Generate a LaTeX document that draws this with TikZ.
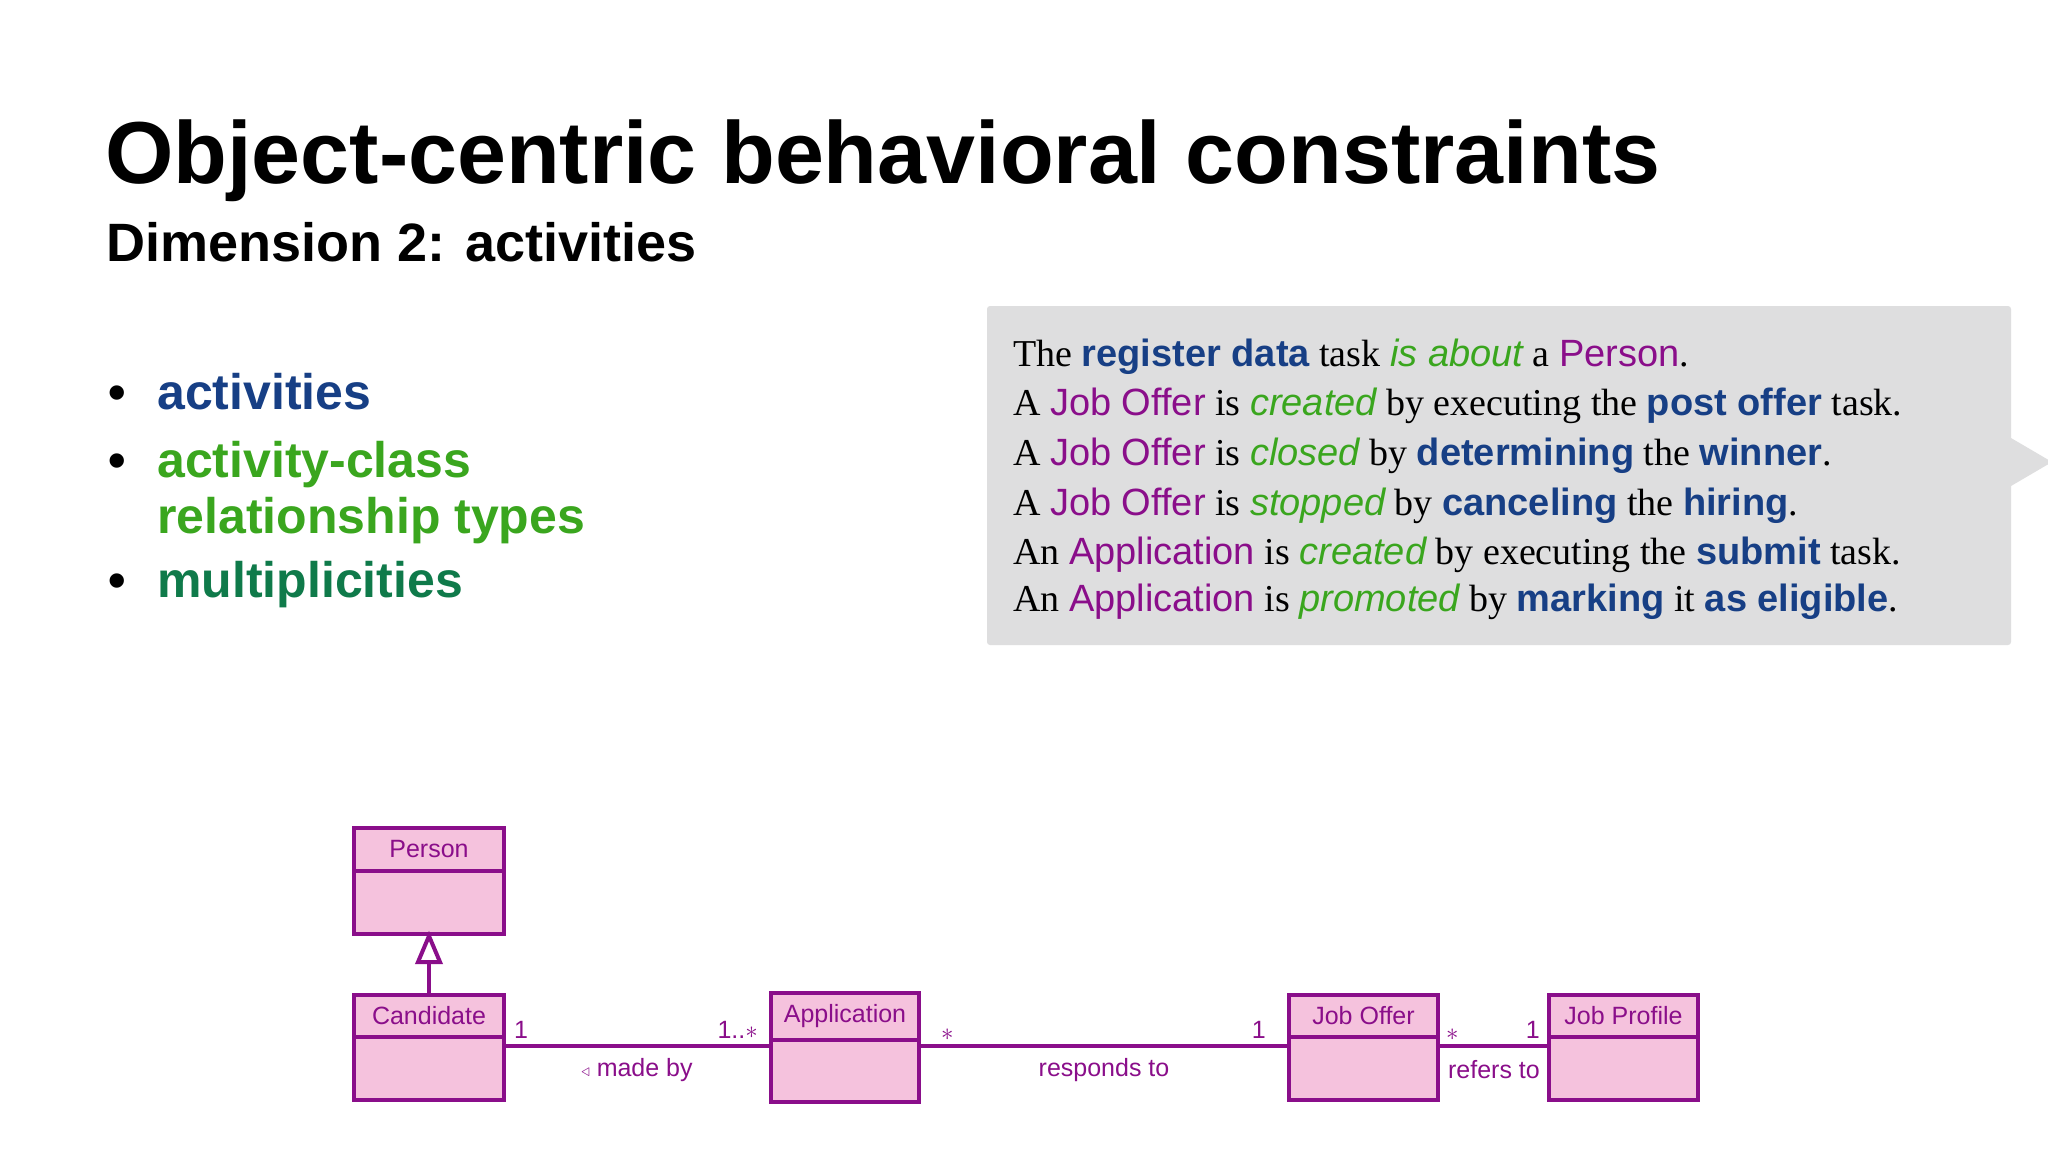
\documentclass[tikz,border=0pt]{standalone}
\usepackage{fontspec}
\setmainfont{Liberation Serif}
\setsansfont{Liberation Sans}
\definecolor{dblue}{HTML}{173F85}
\definecolor{lgreen}{HTML}{3AA61E}
\definecolor{dgreen}{HTML}{0F7A4A}
\definecolor{umlp}{HTML}{8A0E8A}
\definecolor{umlf}{HTML}{F5C2DD}
\definecolor{boxg}{HTML}{DEDEDF}
\newcommand{\tb}[1]{{\sffamily\bfseries\color{dblue}#1}}
\newcommand{\tg}[1]{{\sffamily\itshape\color{lgreen}#1}}
\newcommand{\tp}[1]{{\sffamily\color{umlp}#1}}
\begin{document}
\begin{tikzpicture}[x=1pt,y=-1pt,
  cls/.style={draw=umlp,line width=4pt,fill=umlf},
  lab/.style={font=\sffamily\fontsize{25}{28}\selectfont,text=umlp,inner sep=0pt},
  line/.style={draw=umlp,line width=4pt}]
\useasboundingbox (0,0) rectangle (2048,1152);
\fill[white] (0,0) rectangle (2048,1152);
% title
\node[anchor=base west,inner sep=0pt,font=\sffamily\bfseries\fontsize{88}{90}\selectfont] (title) at (105,183) {Object-centric behavioral constraints};
\node[anchor=base west,inner sep=0pt,font=\sffamily\bfseries\fontsize{54}{60}\selectfont] (sub) at (106,261) {Dimension 2: activities};
% bullets
\begin{scope}[every node/.style={anchor=base west,inner sep=0pt,font=\sffamily\bfseries\fontsize{50}{56}\selectfont}]
\node (b1) at (108,409) {•};
\node[text=dblue] (t1) at (157,409) {activities};
\node (b2) at (108,477) {•};
\node[text=lgreen] (t2) at (157,477) {activity-class};
\node[text=lgreen] (t2b) at (157,533) {relationship types};
\node (b3) at (108,597) {•};
\node[text=dgreen] (t3) at (157,597) {multiplicities};
\end{scope}
% grey box
\fill[boxg,rounded corners=3pt] (987,306) rectangle (2011,645);
\fill[boxg] (2011,438) -- (2052,462) -- (2011,486) -- cycle;
\begin{scope}[every node/.style={anchor=base west,inner sep=0pt,font=\fontsize{38}{40}\selectfont}]
\node (l1) at (1013,366) {The \tb{register data} task \tg{is about} a \tp{Person}.};
\node (l2) at (1013,415) {A \tp{Job Offer} is \tg{created} by executing the \tb{post offer} task.};
\node (l3) at (1013,465) {A \tp{Job Offer} is \tg{closed} by \tb{determining} the \tb{winner}.};
\node (l4) at (1013,515) {A \tp{Job Offer} is \tg{stopped} by \tb{canceling} the \tb{hiring}.};
\node (l5) at (1013,564) {An \tp{Application} is \tg{created} by executing the \tb{submit} task.};
\node (l6) at (1013,611) {An \tp{Application} is \tg{promoted} by \tb{marking} it \tb{as eligible}.};
\end{scope}
% UML classes
\newcommand{\umlclass}[6]{%
 \draw[cls] (#2,#3) rectangle (#4,#5);
 \draw[line] (#2,#6) -- (#4,#6);
 \node[lab] (#1) at ({(#2+#4)/2},{(#3+#6)/2}) {#1};
 \coordinate (#1-W) at (#2,1046);
 \coordinate (#1-E) at (#4,1046);}
\umlclass{Person}{354}{828}{504}{934}{871}
\umlclass{Candidate}{354}{995}{504}{1100}{1037}
\umlclass{Application}{771}{993}{919}{1102}{1040}
\umlclass{Job Offer}{1289}{995}{1438}{1100}{1037}
\umlclass{Job Profile}{1549}{995}{1698}{1100}{1037}
\coordinate (ct) at (429,995);
\coordinate (pb) at (429,936);
\draw[line] (ct) -- (429,962);
\draw[draw=umlp,line width=4pt,fill=white,line join=miter] (pb) -- (440,962) -- (418,962) -- cycle;
\draw[line] (Candidate-E) -- (Application-W);
\draw[line] (Application-E) -- (Job Offer-W);
\draw[line] (Job Offer-E) -- (Job Profile-W);
\node[lab,anchor=base west] (m1) at (514,1038) {1};
\node[lab,anchor=base east] (m2) at (758,1038) {1..$*$};
\node[lab,anchor=base west] (m3) at (941,1040) {$*$};
\node[lab,anchor=base east] (m4) at (1266,1038) {1};
\node[lab,anchor=base west] (m5) at (1446,1040) {$*$};
\node[lab,anchor=base east] (m6) at (1540,1038) {1};
\node[lab] (a1) at (637,1070) {\fontsize{16}{16}\selectfont$\triangleleft$\fontsize{25}{28}\selectfont\ made by};
\node[lab] (a2) at (1104,1070) {responds to};
\node[lab] (a3) at (1494,1070) {refers to};
\end{tikzpicture}
\end{document}
